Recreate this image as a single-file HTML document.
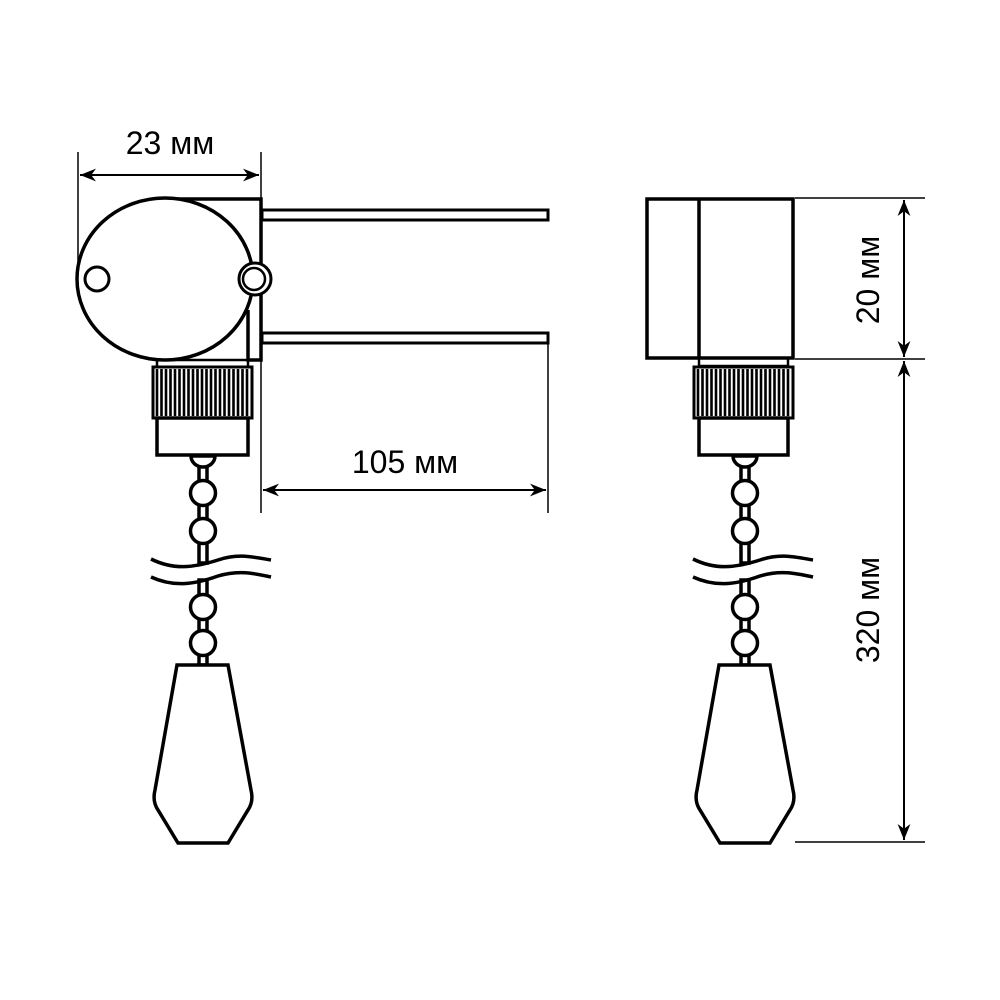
<!DOCTYPE html>
<html><head><meta charset="utf-8"><style>html,body{margin:0;padding:0;background:#fff}svg{display:block}</style></head><body>
<svg width="1000" height="1000" viewBox="0 0 1000 1000" xmlns="http://www.w3.org/2000/svg">
<defs>
<marker id="a" viewBox="0 0 10 10" refX="10" refY="5" markerWidth="16" markerHeight="16" markerUnits="userSpaceOnUse" orient="auto-start-reverse"><path d="M0,1 L10,5 L0,9 L3,5 Z" fill="#000"/></marker>
<g id="chain" fill="#fff" stroke="#000" stroke-width="3.5">
<rect x="-4" y="465" width="8" height="16"/>
<rect x="-4" y="505" width="8" height="14"/>
<rect x="-4" y="543" width="8" height="20"/>
<rect x="-4" y="580" width="8" height="15"/>
<rect x="-4" y="619" width="8" height="12"/>
<rect x="-4" y="654" width="8" height="11"/>
<path d="M-12,456 A12,11 0 0 0 12,456 Z"/>
<circle cx="0" cy="493" r="12.5"/>
<circle cx="0" cy="531" r="12.5"/>
<circle cx="0" cy="607" r="12.5"/>
<circle cx="0" cy="643" r="12.5"/>
<path d="M-52,559 C-30,570 -10,568 15,560 C35,553 50,557 68,560" fill="none"/>
<path d="M-52,577 C-30,587 -10,585 15,576 C35,570 50,573 68,577" fill="none"/>
<path d="M-26,665 L25,665 L48,790 C50,798 49,804 45,810 L25,843 L-25,843 L-45,810 C-49,804 -50,798 -48,790 L-26,665 Z"/>
</g>
<g id="knurl">
<rect x="0" y="0" width="99" height="51" fill="#fff" stroke="#000" stroke-width="3"/>
<path d="M4,2V49M8.5,2V49M13,2V49M17.5,2V49M22,2V49M26.5,2V49M31,2V49M35.5,2V49M40,2V49M44.5,2V49M49,2V49M53.5,2V49M58,2V49M62.5,2V49M67,2V49M71.5,2V49M76,2V49M80.5,2V49M85,2V49M89.5,2V49M94,2V49" stroke="#000" stroke-width="2.6"/>
</g>
</defs>
<g fill="none" stroke="#000">
<path d="M78,152 V270 M261,152 V513" stroke-width="1.5"/>
<line x1="80" y1="175" x2="259" y2="175" stroke-width="2" marker-start="url(#a)" marker-end="url(#a)"/>
<path d="M160,199 H261 V360 H248 V310" stroke-width="3.5"/>
<rect x="262" y="210" width="286" height="10" stroke-width="3" fill="#fff"/>
<rect x="262" y="333" width="286" height="10" stroke-width="3" fill="#fff"/>
<path d="M548,343 V513" stroke-width="1.5"/>
<line x1="263" y1="490" x2="546" y2="490" stroke-width="2" marker-start="url(#a)" marker-end="url(#a)"/>
<ellipse cx="165" cy="279" rx="88" ry="81" stroke-width="3.5" fill="#fff"/>
<circle cx="97" cy="279" r="12" stroke-width="3"/>
<circle cx="255" cy="279" r="16" stroke-width="3" fill="#fff"/>
<circle cx="254" cy="279" r="11" stroke-width="2.5"/>
<rect x="157" y="360" width="91" height="8" stroke-width="2.5"/>
<use href="#knurl" x="153" y="367"/>
<rect x="157" y="418" width="91" height="37" stroke-width="3.5" fill="#fff"/>
<use href="#chain" x="203" y="0"/>
<rect x="647" y="199" width="146" height="159" stroke-width="3.5" fill="#fff"/>
<path d="M699,199 V358" stroke-width="3.5"/>
<path d="M795,198 H925 M795,359 H925 M795,842 H925" stroke-width="1.5"/>
<line x1="904" y1="200" x2="904" y2="357" stroke-width="2" marker-start="url(#a)" marker-end="url(#a)"/>
<line x1="904" y1="361" x2="904" y2="840" stroke-width="2" marker-start="url(#a)" marker-end="url(#a)"/>
<rect x="699" y="358" width="89" height="8" stroke-width="2.5"/>
<use href="#knurl" x="694" y="367"/>
<rect x="699" y="418" width="89" height="37" stroke-width="3.5" fill="#fff"/>
<use href="#chain" x="745" y="0"/>
</g>
<g font-family="Liberation Sans, sans-serif" font-size="32" fill="#000" text-anchor="middle">
<text x="170" y="154">23 мм</text>
<text x="405" y="473">105 мм</text>
<text transform="translate(879,280) rotate(-90)">20 мм</text>
<text transform="translate(879,610) rotate(-90)">320 мм</text>
</g>
</svg>
</body></html>
